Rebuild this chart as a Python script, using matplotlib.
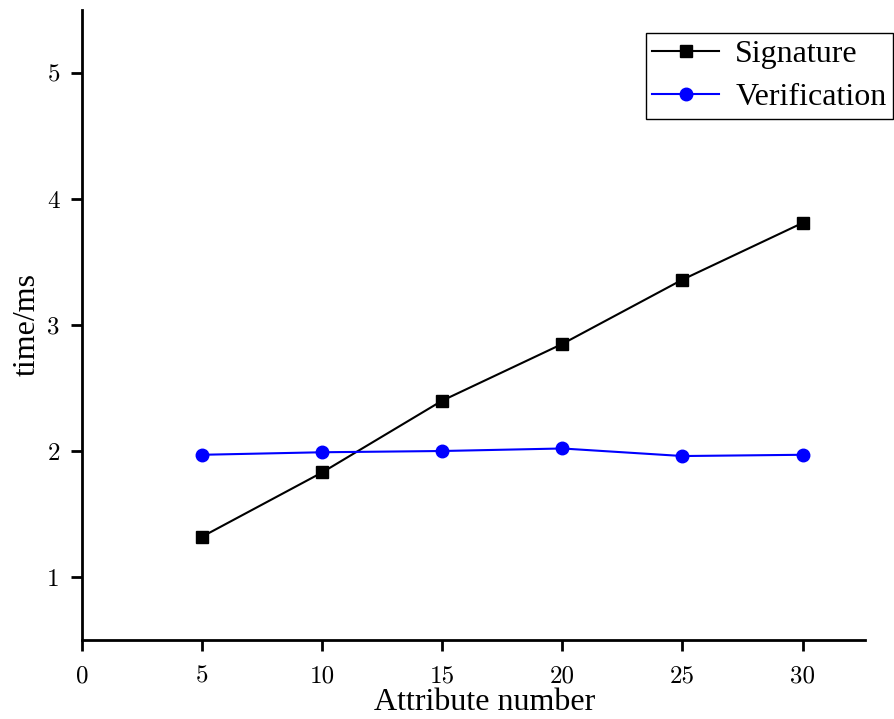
import matplotlib
matplotlib.use("Agg")
import matplotlib.pyplot as plt

attributes = [5, 10, 15, 20, 25, 30]
signature = [1.32, 1.83, 2.40, 2.85, 3.36, 3.81]
verification = [1.97, 1.99, 2.00, 2.02, 1.96, 1.97]
xticks = [0, 5, 10, 15, 20, 25, 30]
yticks = [1, 2, 3, 4, 5]

fig = plt.figure(figsize=(8.94, 7.19), dpi=100)
ax = fig.add_axes([82/894, 1-640/719, (865-82)/894, (640-10)/719])

ax.plot(attributes, signature, color='black', marker='s', markersize=8, linewidth=1.5, label='Signature')
ax.plot(attributes, verification, color='blue', marker='o', markersize=9, linewidth=1.5, label='Verification')

ax.set_xlim(0, 32.6)
ax.set_ylim(0.5, 5.5)
ax.set_xticks(xticks)
ax.set_yticks(yticks)
for s in ['top', 'right']:
    ax.spines[s].set_visible(False)
for s in ['left', 'bottom']:
    ax.spines[s].set_linewidth(2)
ax.tick_params(direction='out', length=8, width=2, labelsize=18, pad=8)
ax.tick_params(axis='x', pad=10)
for lab in ax.get_xticklabels() + ax.get_yticklabels():
    lab.set_fontfamily('cmr10')

ax.set_xlabel('Attribute number', fontsize=23, family='Liberation Serif')
ax.xaxis.set_label_coords(0.514, -0.076)
ax.set_ylabel('time/ms', fontsize=23, family='Liberation Serif', labelpad=4)

leg = ax.legend(loc='upper right', bbox_to_anchor=(893/894, 1-33/719), bbox_transform=fig.transFigure,
                prop={'family': 'Liberation Serif', 'size': 23}, fancybox=False, framealpha=1,
                edgecolor='black', borderpad=0.2, handlelength=2.1, handletextpad=0.5, labelspacing=0.45,
                borderaxespad=0)
leg.get_frame().set_linewidth(1)

fig.savefig('out.png', dpi=100)
